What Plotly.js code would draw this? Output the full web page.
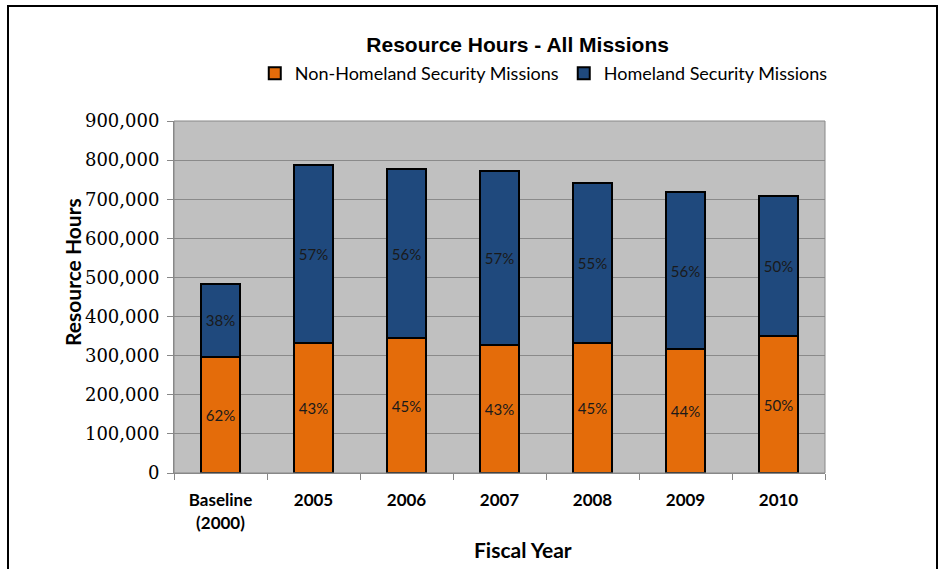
<!DOCTYPE html>
<html><head><meta charset="utf-8">
<script src="https://cdn.plot.ly/plotly-3.0.1.min.js"></script>
<style>
body{margin:0;padding:0;background:#fff;}
#frame{position:absolute;left:7px;top:5px;width:931px;height:570px;border:2px solid #000;border-bottom:none;box-sizing:border-box;pointer-events:none;z-index:5;}
#chart{position:absolute;left:0;top:0;width:942px;height:569px;}
</style></head>
<body>
<div id="chart"></div>
<div id="frame"></div>
<script>
const categories = ["Baseline<br>(2000)", "2005", "2006", "2007", "2008", "2009", "2010"];
const nonHomeland = [297000, 333000, 344000, 327000, 332000, 317000, 350000];
const totals = [484000, 787000, 777000, 771000, 742000, 718000, 709000];
const homeland = totals.map((t, i) => t - nonHomeland[i]);
const nonHomelandPct = ["62%", "43%", "45%", "43%", "45%", "44%", "50%"];
const homelandPct = ["38%", "57%", "56%", "57%", "55%", "56%", "50%"];
const yTicks = [0, 100000, 200000, 300000, 400000, 500000, 600000, 700000, 800000, 900000];

const labelFont = {family: "Lato, 'Noto Sans', sans-serif", size: 15, color: "#1a1a1a"};
const titleFont = {family: "Lato, 'Noto Sans', sans-serif", size: 21, color: "#000"};

const traces = [
  {type: "bar", name: "Non-Homeland Security Missions", x: categories, y: nonHomeland,
   text: nonHomelandPct, textposition: "inside", insidetextanchor: "middle", textangle: 0,
   textfont: labelFont, hoverinfo: "y+name",
   marker: {color: "#e46c0a", line: {color: "#000", width: 2}}},
  {type: "bar", name: "Homeland Security Missions", x: categories, y: homeland,
   text: homelandPct, textposition: "inside", insidetextanchor: "middle", textangle: 0,
   textfont: labelFont, hoverinfo: "y+name",
   marker: {color: "#1f497d", line: {color: "#000", width: 2}}}
];

const layout = {
  width: 942, height: 569,
  margin: {l: 174, r: 117, t: 121, b: 96},
  paper_bgcolor: "#fff", plot_bgcolor: "#c0c0c0",
  barmode: "stack", bargap: 0.59,
  showlegend: true,
  title: {text: "<b>Resource Hours - All Missions</b>", x: 0.5495, xanchor: "center", y: 0.922, yanchor: "middle",
          font: {family: "'Liberation Sans', Arial, sans-serif", size: 21, color: "#000"}},
  legend: {orientation: "h", x: 0.568, xanchor: "center", y: 1.135, yanchor: "middle",
           font: {family: "Lato, 'Noto Sans', sans-serif", size: 18, color: "#000"},
           traceorder: "normal", itemwidth: 30, itemsizing: "constant", bgcolor: "rgba(0,0,0,0)"},
  xaxis: {type: "category", tickson: "boundaries", ticks: "outside", ticklen: 6, tickcolor: "#888",
          showline: true, linecolor: "#888", linewidth: 1, mirror: false, ticklabelstandoff: 12,
          tickfont: {family: "Lato, 'Noto Sans', sans-serif", size: 17, color: "#000", weight: "bold"},
          fixedrange: true},
  yaxis: {range: [0, 900000], tickvals: yTicks, tickformat: ",d", ticks: "outside", ticklen: 6, tickcolor: "#888",
          showgrid: true, gridcolor: "#8a8a8a", gridwidth: 1, zeroline: false,
          showline: true, linecolor: "#888", linewidth: 1, ticklabelstandoff: 4,
          tickfont: {family: "'DejaVu Serif', serif", size: 18, color: "#000"},
          fixedrange: true},
  annotations: [
    {text: "<b>Fiscal Year</b>", xref: "paper", yref: "paper", x: 0.536, y: -0.216, xanchor: "center", yanchor: "middle",
     showarrow: false, font: titleFont},
    {text: "<b>Resource Hours</b>", xref: "paper", yref: "paper", x: -0.1567, y: 0.571, xanchor: "center", yanchor: "middle",
     textangle: -90, showarrow: false, font: titleFont}
  ],
  shapes: [{type: "rect", xref: "paper", yref: "paper", x0: 0, x1: 1, y0: 0, y1: 1, line: {color: "#888", width: 1}}]
};

Plotly.newPlot("chart", traces, layout, {displayModeBar: false, staticPlot: true});
</script>
</body></html>
